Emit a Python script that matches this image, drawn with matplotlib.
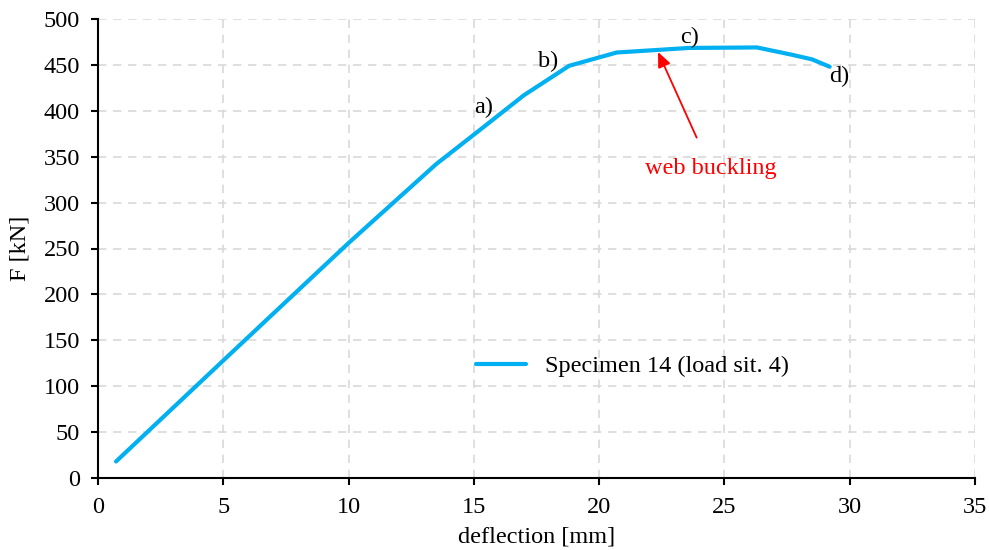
import matplotlib
matplotlib.use("Agg")
import matplotlib.pyplot as plt

deflection = [0.72, 5.0, 10.0, 13.5, 15.0, 17.0, 18.8, 20.7, 23.6, 26.3, 27.7, 28.5, 29.2]
force = [18, 128, 256, 342, 374, 417, 449, 463.5, 468.5, 469, 461, 456, 448]

stage_labels = ["a)", "b)", "c)", "d)"]
stage_x = [15.4, 17.95, 23.6, 29.6]
stage_y = [404, 454, 480, 437]

series_name = "Specimen 14 (load sit. 4)"
note_text = "web buckling"
note_xy = (22.35, 464)
note_text_xy = (24.45, 337)

FS = 17.5

plt.rcParams["font.family"] = ["Liberation Serif", "DejaVu Serif"]

fig = plt.figure(figsize=(9.89, 5.5), dpi=100)
ax = fig.add_axes([98 / 989, 1 - 478 / 550, (975 - 98) / 989, (478 - 19) / 550])

ax.plot(deflection, force, color="#00b0f0", lw=3, solid_capstyle="round",
        solid_joinstyle="round", label=series_name, zorder=3)

for lab, x, y in zip(stage_labels, stage_x, stage_y):
    ax.text(x, y, lab, fontsize=FS, ha="center", va="center", color="black")

ax.annotate(note_text, xy=note_xy, xytext=note_text_xy, color="red", fontsize=FS,
            ha="center", va="center",
            arrowprops=dict(arrowstyle="-|>,head_length=0.5,head_width=0.22", color="red", lw=1.3,
                            mutation_scale=18, shrinkA=14, shrinkB=0))

ax.set_xlim(0, 35)
ax.set_ylim(0, 500)
ax.set_xticks(range(0, 36, 5))
ax.set_yticks(range(0, 501, 50))
ax.grid(True, color="#d9d9d9", linestyle=(0, (5, 4)), lw=1.2)
ax.set_axisbelow(True)

for s in ("top", "right"):
    ax.spines[s].set_visible(False)
for s in ("left", "bottom"):
    ax.spines[s].set_linewidth(1.5)
    ax.spines[s].set_color("black")

ax.tick_params(axis="both", direction="out", length=5, width=1.5, labelsize=FS, colors="black")
ax.tick_params(axis="x", pad=9)
ax.tick_params(axis="y", pad=8)
ax.set_xlabel("deflection [mm]", fontsize=FS, labelpad=6)
ax.set_ylabel("F [kN]", fontsize=FS, labelpad=9)

ax.legend(loc="center left", bbox_to_anchor=(14.2 / 35, 122 / 500), frameon=False,
          fontsize=FS, handlelength=2.05, handletextpad=0.8)

fig.savefig("out.png", dpi=100, facecolor="white")
